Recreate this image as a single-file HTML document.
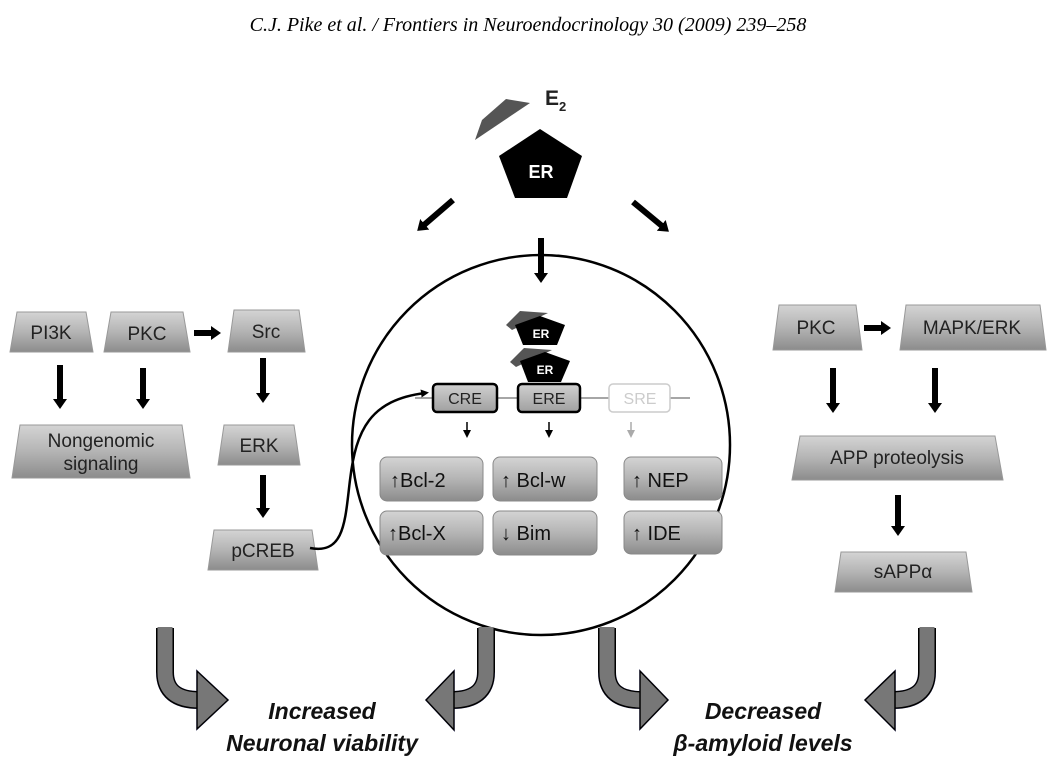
<!DOCTYPE html>
<html><head><meta charset="utf-8"><style>
html,body{margin:0;padding:0;background:#fff;}
svg{display:block;}
text{font-family:"Liberation Sans",sans-serif;}
</style></head><body>
<svg width="1056" height="779" viewBox="0 0 1056 779" xmlns="http://www.w3.org/2000/svg">
<defs>
<linearGradient id="g" x1="0" y1="0" x2="0" y2="1">
<stop offset="0" stop-color="#d4d4d4"/><stop offset="0.5" stop-color="#b4b4b4"/><stop offset="1" stop-color="#8c8c8c"/>
</linearGradient>
<linearGradient id="g2" x1="0" y1="0" x2="0" y2="1">
<stop offset="0" stop-color="#d0d0d0"/><stop offset="1" stop-color="#a0a0a0"/>
</linearGradient>
<marker id="ah" markerWidth="10" markerHeight="14" refX="1" refY="7" orient="auto" markerUnits="userSpaceOnUse"><path d="M0,0 L10,7 L0,14 z" fill="#000"/></marker>
<marker id="sa" markerWidth="8" markerHeight="8" refX="4" refY="4" orient="auto" markerUnits="userSpaceOnUse"><path d="M0,0 L8,4 L0,8 z" fill="#000"/></marker>
<marker id="sg" markerWidth="8" markerHeight="8" refX="4" refY="4" orient="auto" markerUnits="userSpaceOnUse"><path d="M0,0 L8,4 L0,8 z" fill="#aaa"/></marker>
<filter id="sh" x="-30%" y="-30%" width="160%" height="160%"><feGaussianBlur in="SourceAlpha" stdDeviation="3"/><feOffset dx="4" dy="4"/><feFlood flood-color="#7070c0" flood-opacity="0.6"/><feComposite operator="in" in2="SourceGraphic" result="s0"/><feMerge><feMergeNode/><feMergeNode in="SourceGraphic"/></feMerge></filter>
</defs>

<text x="528" y="31" text-anchor="middle" font-style="italic" font-size="20" style="font-family:'Liberation Serif',serif">C.J. Pike et al. / Frontiers in Neuroendocrinology 30 (2009) 239–258</text>

<!-- E2 & ER -->
<polygon points="475,140 482,120 506,99 530,103" fill="#555"/>
<text x="545" y="105" font-size="21" font-weight="bold" fill="#222">E<tspan font-size="13" dy="6">2</tspan></text>
<polygon points="540,129 582,156 567,198 515,198 499,156" fill="#000"/>
<text x="541" y="178" text-anchor="middle" font-size="18" font-weight="bold" fill="#fff">ER</text>

<!-- nucleus -->
<ellipse cx="541" cy="445" rx="189" ry="190" fill="#fff" stroke="#000" stroke-width="2.5"/>

<!-- top arrows -->
<g stroke="#000" stroke-width="6" fill="none" marker-end="url(#ah)">
<line x1="453" y1="200" x2="424" y2="225"/>
<line x1="633" y1="202" x2="662" y2="226"/>
<line x1="541" y1="238" x2="541" y2="274"/>
</g>

<!-- inner ERs -->
<polygon points="506,325 520,311 548,313 512,330" fill="#555"/>
<polygon points="540,316 565,325 557,345 523,345 515,325" fill="#000"/>
<text x="541" y="338" text-anchor="middle" font-size="12" font-weight="bold" fill="#fff">ER</text>
<polygon points="510,362 524,348 552,350 516,367" fill="#555"/>
<polygon points="545,352 570,361 561,382 528,382 520,361" fill="#000"/>
<text x="545" y="374" text-anchor="middle" font-size="12" font-weight="bold" fill="#fff">ER</text>

<line x1="415" y1="398" x2="690" y2="398" stroke="#888" stroke-width="1.5"/>
<rect x="433" y="384" width="64" height="28" rx="4" fill="url(#g2)" stroke="#000" stroke-width="2.5"/>
<text x="465" y="404" text-anchor="middle" font-size="16" fill="#222">CRE</text>
<rect x="518" y="384" width="62" height="28" rx="4" fill="url(#g2)" stroke="#000" stroke-width="2.5"/>
<text x="549" y="404" text-anchor="middle" font-size="16" fill="#222">ERE</text>
<rect x="609" y="384" width="61" height="28" rx="4" fill="#fff" stroke="#ccc" stroke-width="1.5"/>
<text x="640" y="404" text-anchor="middle" font-size="16" fill="#ccc">SRE</text>

<g stroke-width="1.5">
<line x1="467" y1="422" x2="467" y2="434" stroke="#000" marker-end="url(#sa)"/>
<line x1="549" y1="422" x2="549" y2="434" stroke="#000" marker-end="url(#sa)"/>
<line x1="631" y1="422" x2="631" y2="434" stroke="#aaa" marker-end="url(#sg)"/>
</g>

<g stroke="#888" stroke-width="1" fill="url(#g)">
<rect x="380" y="457" width="103" height="44" rx="7"/>
<rect x="493" y="457" width="104" height="44" rx="7"/>
<rect x="624" y="457" width="98" height="43" rx="7"/>
<rect x="380" y="511" width="103" height="44" rx="7"/>
<rect x="493" y="511" width="104" height="44" rx="7"/>
<rect x="624" y="511" width="98" height="43" rx="7"/>
</g>
<g font-size="20" fill="#111">
<text x="390" y="487">↑Bcl-2</text>
<text x="501" y="487">↑ Bcl-w</text>
<text x="632" y="487">↑ NEP</text>
<text x="388" y="540">↑Bcl-X</text>
<text x="501" y="540">↓ Bim</text>
<text x="632" y="540">↑ IDE</text>
</g>

<!-- left trapezoids -->
<g fill="url(#g)" stroke="#999" stroke-width="1">
<polygon points="17,312 86,312 93,352 10,352"/>
<polygon points="111,312 183,312 190,352 104,352"/>
<polygon points="234,310 299,310 305,352 228,352"/>
<polygon points="20,425 182,425 190,478 12,478"/>
<polygon points="224,425 294,425 300,465 218,465"/>
<polygon points="214,530 312,530 318,570 208,570"/>
</g>
<g font-size="19" fill="#222" text-anchor="middle">
<text x="51" y="339">PI3K</text>
<text x="147" y="340">PKC</text>
<text x="266" y="338">Src</text>
<text x="101" y="447">Nongenomic</text>
<text x="101" y="470">signaling</text>
<text x="259" y="452">ERK</text>
<text x="263" y="557">pCREB</text>
</g>
<g stroke="#000" stroke-width="6" fill="none" marker-end="url(#ah)">
<line x1="194" y1="333" x2="212" y2="333"/>
<line x1="60" y1="365" x2="60" y2="400"/>
<line x1="143" y1="368" x2="143" y2="400"/>
<line x1="263" y1="358" x2="263" y2="394"/>
<line x1="263" y1="475" x2="263" y2="509"/>
</g>
<path d="M310,548 C345,555 345,520 350,480 C356,430 370,400 425,393" fill="none" stroke="#000" stroke-width="2.5" marker-end="url(#sa)"/>

<!-- right -->
<g fill="url(#g)" stroke="#999" stroke-width="1">
<polygon points="779,305 856,305 862,350 773,350"/>
<polygon points="906,305 1040,305 1046,350 900,350"/>
<polygon points="800,436 995,436 1003,480 792,480"/>
<polygon points="841,552 966,552 972,592 835,592"/>
</g>
<g font-size="19" fill="#222" text-anchor="middle">
<text x="816" y="334">PKC</text>
<text x="972" y="334">MAPK/ERK</text>
<text x="897" y="464">APP proteolysis</text>
<text x="903" y="578">sAPPα</text>
</g>
<g stroke="#000" stroke-width="6" fill="none" marker-end="url(#ah)">
<line x1="864" y1="328" x2="882" y2="328"/>
<line x1="833" y1="368" x2="833" y2="404"/>
<line x1="935" y1="368" x2="935" y2="404"/>
<line x1="898" y1="495" x2="898" y2="527"/>
</g>

<!-- bottom curved arrows -->
<g filter="url(#sh)">
<path d="M165,628 V672 Q165,700 199,700" fill="none" stroke="#000" stroke-width="18"/>
<path d="M165,627 V672 Q165,700 200,700" fill="none" stroke="#777" stroke-width="15"/>
<polygon points="197,671 228,700 197,729" fill="#777" stroke="#000" stroke-width="1.5"/>
<path d="M486,628 V672 Q486,700 452,700" fill="none" stroke="#000" stroke-width="18"/>
<path d="M486,627 V672 Q486,700 451,700" fill="none" stroke="#777" stroke-width="15"/>
<polygon points="454,671 426,700 454,730" fill="#777" stroke="#000" stroke-width="1.5"/>
<path d="M607,628 V672 Q607,700 641,700" fill="none" stroke="#000" stroke-width="18"/>
<path d="M607,627 V672 Q607,700 642,700" fill="none" stroke="#777" stroke-width="15"/>
<polygon points="640,671 668,700 640,729" fill="#777" stroke="#000" stroke-width="1.5"/>
<path d="M927,628 V672 Q927,700 893,700" fill="none" stroke="#000" stroke-width="18"/>
<path d="M927,627 V672 Q927,700 892,700" fill="none" stroke="#777" stroke-width="15"/>
<polygon points="895,671 865,700 895,730" fill="#777" stroke="#000" stroke-width="1.5"/>
</g>

<g font-size="23" font-weight="bold" font-style="italic" fill="#111" text-anchor="middle">
<text x="322" y="719">Increased</text>
<text x="322" y="751">Neuronal viability</text>
<text x="763" y="719">Decreased</text>
<text x="763" y="751">β-amyloid levels</text>
</g>
</svg>
</body></html>
